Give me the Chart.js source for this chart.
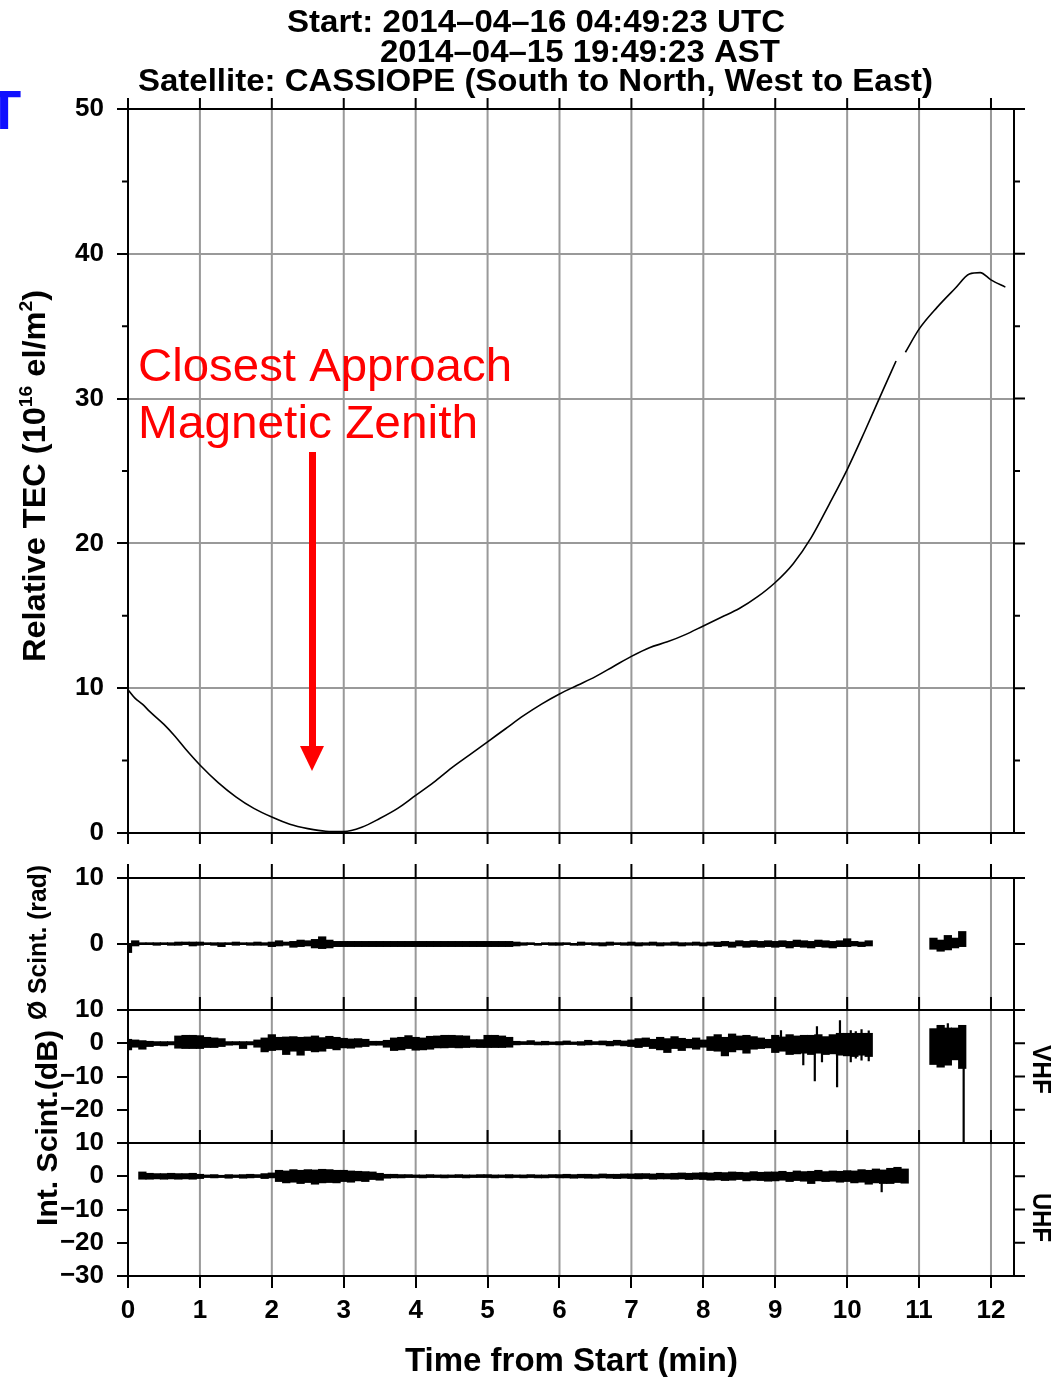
<!DOCTYPE html>
<html>
<head>
<meta charset="utf-8">
<title>CASSIOPE pass 2014-04-16</title>
<script src="https://cdn.jsdelivr.net/npm/chart.js@4.4.1/dist/chart.umd.min.js"></script>
<style>
  html, body { margin: 0; padding: 0; background: #fff; overflow: hidden; }
  canvas { display: block; }
</style>
</head>
<body>
<canvas id="passChart" width="1057" height="1377"></canvas>
<script>
// minute ticks and axis ticks
const xTicks = [0, 1, 2, 3, 4, 5, 6, 7, 8, 9, 10, 11, 12];
const tecTicks = [0, 10, 20, 30, 40, 50];
const tecMinor = [5, 15, 25, 35, 45];
const phaseTicks = [0, 10];
const vhfTicks = [-20, -10, 0, 10];
const uhfTicks = [-30, -20, -10, 0, 10];

// relative TEC (10^16 el/m^2), null = data gap
const tecTime = [0, 0.1, 0.2, 0.3, 0.5, 0.65, 0.8, 1.0, 1.25, 1.5, 1.75, 2.0, 2.25, 2.5, 2.75, 3.0,
  3.25, 3.5, 3.75, 4.0, 4.25, 4.5, 4.75, 5.0, 5.25, 5.5, 5.75, 6.0, 6.25, 6.5, 6.75, 7.0, 7.25, 7.5,
  7.75, 8.0, 8.25, 8.5, 8.75, 9.0, 9.25, 9.5, 9.75, 10.0, 10.25, 10.5, 10.68, 10.74, 10.81, 11.0,
  11.25, 11.5, 11.7, 11.85, 12.0, 12.2];
const tecValue = [9.9, 9.3, 8.9, 8.4, 7.5, 6.7, 5.8, 4.7, 3.5, 2.5, 1.7, 1.1, 0.6, 0.3, 0.12, 0.1,
  0.4, 1.0, 1.7, 2.6, 3.5, 4.5, 5.4, 6.3, 7.2, 8.1, 8.9, 9.6, 10.2, 10.8, 11.5, 12.2, 12.8, 13.2,
  13.7, 14.3, 14.9, 15.5, 16.3, 17.3, 18.6, 20.4, 22.7, 25.1, 27.8, 30.6, 32.6, null, 33.2, 34.8,
  36.3, 37.6, 38.6, 38.7, 38.2, 37.7];

// scintillation samples (min): low / high envelope per sample
const scintTime = [
  0, 0.1, 0.2, 0.3, 0.4, 0.5, 0.6, 0.7, 0.8, 0.9,
  1, 1.1, 1.2, 1.3, 1.4, 1.5, 1.6, 1.7, 1.8, 1.9,
  2, 2.1, 2.2, 2.3, 2.4, 2.5, 2.6, 2.7, 2.8, 2.9,
  3, 3.1, 3.2, 3.3, 3.4, 3.5, 3.6, 3.7, 3.8, 3.9,
  4, 4.1, 4.2, 4.3, 4.4, 4.5, 4.6, 4.7, 4.8, 4.9,
  5, 5.1, 5.2, 5.3, 5.4, 5.5, 5.6, 5.7, 5.8, 5.9,
  6, 6.1, 6.2, 6.3, 6.4, 6.5, 6.6, 6.7, 6.8, 6.9,
  7, 7.1, 7.2, 7.3, 7.4, 7.5, 7.6, 7.7, 7.8, 7.9,
  8, 8.1, 8.2, 8.3, 8.4, 8.5, 8.6, 8.7, 8.8, 8.9,
  9, 9.1, 9.2, 9.3, 9.4, 9.5, 9.6, 9.7, 9.8, 9.9,
  10, 10.1, 10.2, 10.3, 10.4, 10.5, 10.6, 10.7, 10.8,
  11.2, 11.3, 11.4, 11.5, 11.6];

// phase scintillation (rad)
const phaseLow = [
  -1.3, -0.3, -0.1, -0.1, -0.2, -0.1, -0.2, -0.2, -0.1, -0.3,
  -0.2, -0.1, -0.2, -0.4, -0.1, -0.2, -0.1, -0.2, -0.2, -0.2,
  -0.4, -0.3, -0.2, -0.5, -0.4, -0.3, -0.6, -0.7, -0.6, -0.4,
  -0.4, -0.4, -0.4, -0.4, -0.4, -0.4, -0.4, -0.4, -0.4, -0.4,
  -0.4, -0.4, -0.4, -0.4, -0.4, -0.4, -0.4, -0.4, -0.4, -0.4,
  -0.4, -0.4, -0.4, -0.4, -0.3, -0.2, -0.1, -0.2, -0.1, -0.2,
  -0.2, -0.1, -0.2, -0.2, -0.1, -0.2, -0.3, -0.2, -0.1, -0.2,
  -0.2, -0.3, -0.2, -0.2, -0.3, -0.2, -0.2, -0.3, -0.2, -0.2,
  -0.3, -0.2, -0.4, -0.3, -0.5, -0.3, -0.5, -0.4, -0.5, -0.4,
  -0.5, -0.4, -0.6, -0.4, -0.5, -0.6, -0.4, -0.5, -0.6, -0.4,
  -0.4, -0.3, -0.4, -0.3, null, null, null, null, null,
  -0.8, -1.1, -0.9, -0.6, -0.4];
const phaseHigh = [
  0.1, 0.5, 0.2, 0.2, 0.2, 0.2, 0.2, 0.3, 0.3, 0.3,
  0.3, 0.2, 0.2, 0.2, 0.2, 0.3, 0.2, 0.2, 0.3, 0.2,
  0.3, 0.5, 0.3, 0.4, 0.6, 0.5, 0.7, 1.1, 0.6, 0.4,
  0.4, 0.4, 0.4, 0.4, 0.4, 0.4, 0.4, 0.4, 0.4, 0.4,
  0.4, 0.4, 0.4, 0.4, 0.4, 0.4, 0.4, 0.4, 0.4, 0.4,
  0.4, 0.4, 0.4, 0.4, 0.3, 0.2, 0.2, 0.1, 0.2, 0.2,
  0.2, 0.2, 0.1, 0.3, 0.2, 0.2, 0.2, 0.3, 0.2, 0.2,
  0.3, 0.2, 0.2, 0.3, 0.2, 0.2, 0.3, 0.2, 0.2, 0.3,
  0.2, 0.3, 0.3, 0.4, 0.3, 0.5, 0.4, 0.5, 0.4, 0.5,
  0.4, 0.5, 0.4, 0.6, 0.5, 0.4, 0.6, 0.5, 0.4, 0.5,
  0.8, 0.4, 0.3, 0.5, null, null, null, null, null,
  0.9, 0.6, 1.3, 0.9, 1.9];

// VHF intensity scintillation (dB)
const vhfLow = [
  -2.0, -1.2, -1.8, -1.0, -0.7, -0.8, -0.5, -1.5, -1.6, -1.6,
  -1.6, -1.3, -1.3, -1.0, -0.6, -0.5, -1.6, -0.5, -1.2, -2.6,
  -2.2, -2.0, -3.4, -2.4, -3.6, -2.2, -2.6, -2.4, -1.6, -2.0,
  -1.4, -1.5, -1.2, -1.0, -0.6, -0.6, -1.2, -2.2, -2.0, -1.6,
  -2.1, -2.0, -1.8, -1.4, -1.4, -1.3, -1.4, -1.3, -1.2, -1.3,
  -1.3, -1.3, -1.3, -1.2, -0.5, -0.4, -0.4, -0.5, -0.5, -0.4,
  -0.5, -0.4, -0.4, -0.6, -0.5, -0.4, -0.5, -0.8, -0.6, -0.8,
  -1.0, -1.3, -1.0, -1.6, -2.0, -2.8, -1.6, -2.2, -1.4, -1.8,
  -1.2, -2.2, -2.4, -3.8, -2.6, -2.0, -3.0, -1.8, -1.6, -1.4,
  -2.8, -2.4, -3.4, -3.2, -3.0, -3.4, -3.0, -3.4, -3.2, -3.6,
  -3.8, -4.0, -3.6, -4.0, null, null, null, null, null,
  -6.4, -7.2, -6.6, -5.0, -7.6];
const vhfHigh = [
  1.2, 1.0, 0.8, 0.6, 0.5, 0.5, 0.5, 2.2, 2.4, 2.4,
  2.3, 1.8, 1.6, 1.4, 0.5, 0.5, 0.5, 0.5, 1.0, 1.6,
  2.6, 1.8, 1.9, 2.0, 1.8, 1.9, 2.2, 1.7, 2.1, 1.8,
  1.5, 1.3, 1.4, 1.2, 0.6, 0.6, 0.9, 1.6, 1.8, 2.3,
  1.8, 1.6, 2.1, 2.2, 2.4, 2.4, 2.3, 2.2, 1.1, 1.1,
  2.4, 2.4, 2.2, 1.8, 0.6, 0.5, 0.8, 0.4, 0.6, 0.4,
  0.5, 0.7, 0.4, 0.5, 0.9, 0.5, 0.7, 0.6, 0.9, 0.7,
  1.0, 1.4, 1.6, 1.2, 1.8, 1.4, 2.0, 1.5, 1.2, 1.6,
  1.0, 2.0, 2.6, 1.8, 2.8, 2.2, 2.4, 2.0, 1.6, 1.2,
  2.4, 1.9, 2.6, 2.2, 2.4, 2.4, 2.6, 2.0, 2.6, 3.0,
  3.0, 3.0, 3.0, 3.0, null, null, null, null, null,
  4.4, 5.4, 4.6, 4.6, 5.4];
// narrow VHF spikes and the signal loss at the end
const vhfSpikeTime = [9.08, 9.39, 9.55, 9.58, 9.65, 9.86, 9.9, 10.05, 10.12, 10.2, 10.3, 11.4, 11.62];
const vhfSpikeLow = [-1, -6.6, -11.4, -1, -5.7, -13.2, -1, -5.7, -4.6, -5.2, -5.4, -1, -30];
const vhfSpikeHigh = [3.9, 1, 1, 5.1, 1, 1, 6.9, 3.9, 3.6, 4.2, 3.8, 6.0, -5];

// UHF intensity scintillation (dB)
const uhfLow = [
  null, null, -0.9, -0.9, -0.8, -0.9, -0.8, -0.9, -0.8, -0.9,
  -0.7, -0.4, -0.5, -0.4, -0.6, -0.4, -0.6, -0.5, -0.4, -0.7,
  -0.5, -1.6, -2.0, -1.8, -2.2, -1.9, -2.4, -2.0, -1.9, -2.0,
  -1.6, -1.8, -1.4, -1.6, -1.0, -1.2, -0.6, -0.5, -0.5, -0.4,
  -0.4, -0.5, -0.4, -0.4, -0.5, -0.4, -0.4, -0.5, -0.4, -0.4,
  -0.4, -0.5, -0.4, -0.5, -0.4, -0.5, -0.4, -0.5, -0.5, -0.4,
  -0.5, -0.5, -0.6, -0.5, -0.6, -0.6, -0.5, -0.6, -0.7, -0.6,
  -0.7, -0.8, -0.7, -0.9, -0.8, -0.8, -0.9, -0.8, -1.0, -0.9,
  -1.0, -1.2, -1.1, -1.3, -1.2, -1.0, -1.4, -1.2, -1.3, -1.5,
  -1.4, -1.2, -1.6, -1.3, -1.5, -2.2, -1.4, -1.6, -1.5, -1.8,
  -1.6, -2.0, -1.8, -2.4, -2.0, -2.2, -2.2, -1.9, -2.1,
  null, null, null, null, null];
const uhfHigh = [
  null, null, 1.3, 0.9, 0.8, 0.8, 0.9, 0.8, 0.8, 0.9,
  0.6, 0.4, 0.5, 0.3, 0.5, 0.4, 0.5, 0.6, 0.5, 0.8,
  1.0, 1.8, 1.6, 2.0, 1.8, 2.0, 1.9, 2.1, 2.0, 1.8,
  1.8, 1.6, 1.5, 1.4, 1.3, 0.9, 0.6, 0.6, 0.5, 0.5,
  0.4, 0.4, 0.5, 0.4, 0.4, 0.4, 0.5, 0.4, 0.4, 0.5,
  0.5, 0.4, 0.4, 0.5, 0.4, 0.4, 0.5, 0.4, 0.4, 0.5,
  0.5, 0.6, 0.5, 0.6, 0.6, 0.5, 0.7, 0.6, 0.6, 0.7,
  0.7, 0.8, 0.8, 0.7, 0.9, 0.8, 0.9, 1.0, 0.9, 1.0,
  1.1, 1.0, 1.2, 1.1, 1.3, 1.2, 1.1, 1.4, 1.2, 1.3,
  1.3, 1.5, 1.2, 1.6, 1.4, 1.5, 1.8, 1.4, 1.6, 1.5,
  1.7, 1.6, 2.0, 1.8, 2.2, 1.9, 2.4, 2.7, 2.2,
  null, null, null, null, null];
const uhfSpikeTime = [10.48];
const uhfSpikeLow = [-4.8];
const uhfSpikeHigh = [0];

const FAMILY = '"Liberation Sans", Arial, sans-serif';
const font = (size, bold) => (bold ? 'bold ' : '') + size + 'px ' + FAMILY;

function band(lo, hi) {
  const pts = [];
  scintTime.forEach((t, i) => {
    if (lo[i] !== null) pts.push({x: t, y: [lo[i], hi[i]]});
  });
  return pts;
}

// vertical strokes separated by gaps
function spikes(times, lo, hi) {
  const pts = [];
  times.forEach((t, i) => {
    pts.push({x: t, y: lo[i]}, {x: t, y: hi[i]}, {x: t, y: null});
  });
  return pts;
}

// text stretched to the measured length in the reference
function putText(ctx, parts, x0, y0, length, angle, color) {
  ctx.save();
  ctx.fillStyle = color || '#000';
  ctx.textAlign = 'left';
  ctx.textBaseline = 'alphabetic';
  ctx.translate(x0, y0);
  ctx.rotate(angle || 0);
  let total = 0;
  parts.forEach(p => { ctx.font = p[1]; total += ctx.measureText(p[0]).width; });
  ctx.scale(length / total, 1);
  let pos = 0;
  parts.forEach(p => {
    ctx.font = p[1];
    ctx.fillText(p[0], pos, p[2] || 0);
    pos += ctx.measureText(p[0]).width;
  });
  ctx.restore();
}

const framePlugin = {
  id: 'frame',
  beforeDatasetsDraw(chart) {
    const {ctx} = chart;
    const {x, tec, ph, uhf} = chart.scales;
    ctx.save();
    ctx.strokeStyle = '#999';
    ctx.lineWidth = 2;
    ctx.beginPath();
    xTicks.forEach(v => {
      const px = x.getPixelForValue(v);
      ctx.moveTo(px, tec.top); ctx.lineTo(px, tec.bottom);
      ctx.moveTo(px, ph.top); ctx.lineTo(px, uhf.bottom);
    });
    ctx.stroke();
    ctx.restore();
  },
  afterDatasetsDraw(chart) {
    const {ctx} = chart;
    const {x, tec, ph, vhf, uhf} = chart.scales;
    const L = x.left, R = x.right;
    const seg = (x0, y0, x1, y1) => { ctx.moveTo(x0, y0); ctx.lineTo(x1, y1); };
    ctx.save();
    ctx.strokeStyle = '#000';
    ctx.lineWidth = 2;
    ctx.beginPath();
    seg(L, tec.top, L, tec.bottom); seg(R, tec.top, R, tec.bottom);
    seg(L, ph.top, L, uhf.bottom); seg(R, ph.top, R, uhf.bottom);
    [tec.top, tec.bottom, ph.top, ph.bottom, vhf.bottom, uhf.bottom].forEach(y => seg(L - 11, y, R + 11, y));
    tecTicks.forEach(v => { const y = tec.getPixelForValue(v); seg(R, y, R + 11, y); });
    tecMinor.forEach(v => {
      const y = tec.getPixelForValue(v);
      seg(L - 6, y, L, y); seg(R, y, R + 6, y);
    });
    [[ph, phaseTicks], [vhf, vhfTicks], [uhf, uhfTicks]].forEach(([s, ticks]) => {
      ticks.forEach(v => { const y = s.getPixelForValue(v); seg(R, y, R + 11, y); });
    });
    xTicks.forEach(v => {
      const px = x.getPixelForValue(v);
      seg(px, tec.top - 11, px, tec.top);
      seg(px, tec.bottom, px, tec.bottom + 11);
      seg(px, ph.top - 14, px, ph.top);
      seg(px, ph.bottom - 13, px, ph.bottom);
      seg(px, vhf.bottom - 13, px, vhf.bottom);
    });
    ctx.stroke();
    ctx.restore();
  },
  afterDraw(chart) {
    const {ctx} = chart;
    putText(ctx, [['Start: 2014\u201304\u201316 04:49:23 UTC', font(32, true)]], 287, 32, 498);
    putText(ctx, [['2014\u201304\u201315 19:49:23 AST', font(32, true)]], 380, 62, 400);
    putText(ctx, [['Satellite: CASSIOPE (South to North, West to East)', font(32, true)]], 138, 91, 795);

    putText(ctx, [['Relative TEC (10', font(32, true)], ['16', font(19, true), -13],
      [' el/m', font(32, true)], ['2', font(19, true), -13], [')', font(32, true)]],
      45, 662, 372, -Math.PI / 2);
    putText(ctx, [['\u00d8 Scint. (rad)', font(25, true)]], 46, 1020, 155, -Math.PI / 2);
    putText(ctx, [['Int. Scint.(dB)', font(30, true)]], 57, 1226, 196, -Math.PI / 2);
    putText(ctx, [['VHF', font(26, true)]], 1033, 1045, 49, Math.PI / 2);
    putText(ctx, [['UHF', font(26, true)]], 1033, 1193, 49, Math.PI / 2);
    putText(ctx, [['Time from Start (min)', font(33, true)]], 405, 1371, 333);

    // annotation
    putText(ctx, [['Closest Approach', font(47)]], 138, 381, 374, 0, '#ff0000');
    putText(ctx, [['Magnetic Zenith', font(47)]], 138, 438, 340, 0, '#ff0000');
    ctx.save();
    ctx.fillStyle = '#ff0000';
    ctx.fillRect(309, 452, 7, 296);
    ctx.beginPath();
    ctx.moveTo(300, 746); ctx.lineTo(324, 746); ctx.lineTo(312, 771);
    ctx.closePath();
    ctx.fill();
    ctx.fillStyle = '#1010ff';
    ctx.font = font(56, true);
    ctx.fillText('T', -13, 129);
    ctx.restore();
  }
};

const minus = v => String(v).replace('-', '\u2212');
const yWidth = s => { s.width = 128; };
const yTicks = list => s => { s.ticks = list.map(v => ({value: v})); };
const tickFont = {family: FAMILY, size: 26, weight: 'bold'};

const panelAxis = (weight, stackWeight, min, max, ticks) => ({
  type: 'linear', position: 'left', stack: 'panels', weight, stackWeight, min, max,
  stacked: false,
  afterFit: yWidth,
  afterBuildTicks: yTicks(ticks),
  border: {display: false},
  grid: {drawOnChartArea: false, tickLength: 11, tickColor: '#000', lineWidth: 2},
  ticks: {color: '#000', font: tickFont, padding: 13, autoSkip: false, callback: minus}
});

const barStyle = {
  type: 'bar', xAxisID: 'x', stack: 'scint', backgroundColor: '#000',
  borderWidth: 0, barThickness: 7.6
};
const spikeStyle = {
  type: 'scatter', showLine: true, spanGaps: false, borderColor: '#000',
  borderWidth: 2.2, pointRadius: 0
};

new Chart(document.getElementById('passChart'), {
  type: 'scatter',
  data: {
    datasets: [
      Object.assign({data: band(phaseLow, phaseHigh), yAxisID: 'ph'}, barStyle),
      Object.assign({data: band(vhfLow, vhfHigh), yAxisID: 'vhf'}, barStyle),
      Object.assign({data: band(uhfLow, uhfHigh), yAxisID: 'uhf'}, barStyle),
      Object.assign({data: spikes(vhfSpikeTime, vhfSpikeLow, vhfSpikeHigh), yAxisID: 'vhf'}, spikeStyle),
      Object.assign({data: spikes(uhfSpikeTime, uhfSpikeLow, uhfSpikeHigh), yAxisID: 'uhf'}, spikeStyle),
      {
        type: 'scatter', showLine: true, spanGaps: false, yAxisID: 'tec',
        data: tecTime.map((t, i) => ({x: t, y: tecValue[i]})),
        cubicInterpolationMode: 'monotone',
        borderColor: '#000', borderWidth: 1.6, pointRadius: 0
      }
    ]
  },
  options: {
    responsive: false,
    animation: false,
    devicePixelRatio: 1,
    events: [],
    layout: {padding: {top: 109, right: 43, bottom: 0, left: 0}},
    plugins: {legend: {display: false}, tooltip: {enabled: false}},
    scales: {
      x: {
        type: 'linear', position: 'bottom', min: 0, max: 12.32, offset: false,
        afterFit: s => { s.height = 101; },
        afterBuildTicks: yTicks(xTicks),
        border: {display: false},
        grid: {drawOnChartArea: false, offset: false, tickLength: 12, tickColor: '#000', lineWidth: 2},
        ticks: {color: '#000', font: tickFont, padding: 7, autoSkip: false, maxRotation: 0}
      },
      tec: {
        type: 'linear', position: 'left', stack: 'panels', weight: 5, stackWeight: 724,
        min: 0, max: 50,
        afterFit: yWidth,
        afterBuildTicks: yTicks(tecTicks),
        border: {display: false},
        grid: {color: '#999', tickColor: '#000', tickLength: 11, lineWidth: 2},
        ticks: {color: '#000', font: tickFont, padding: 13, autoSkip: false}
      },
      gap: {
        type: 'linear', position: 'left', stack: 'panels', weight: 4, stackWeight: 45,
        min: 0, max: 1,
        afterFit: yWidth,
        border: {display: false},
        grid: {display: false},
        ticks: {display: false}
      },
      ph: panelAxis(3, 132, -10, 10, phaseTicks),
      vhf: panelAxis(2, 133, -30, 10, vhfTicks),
      uhf: panelAxis(1, 133, -30, 10, uhfTicks)
    }
  },
  plugins: [framePlugin]
});
</script>
</body>
</html>
